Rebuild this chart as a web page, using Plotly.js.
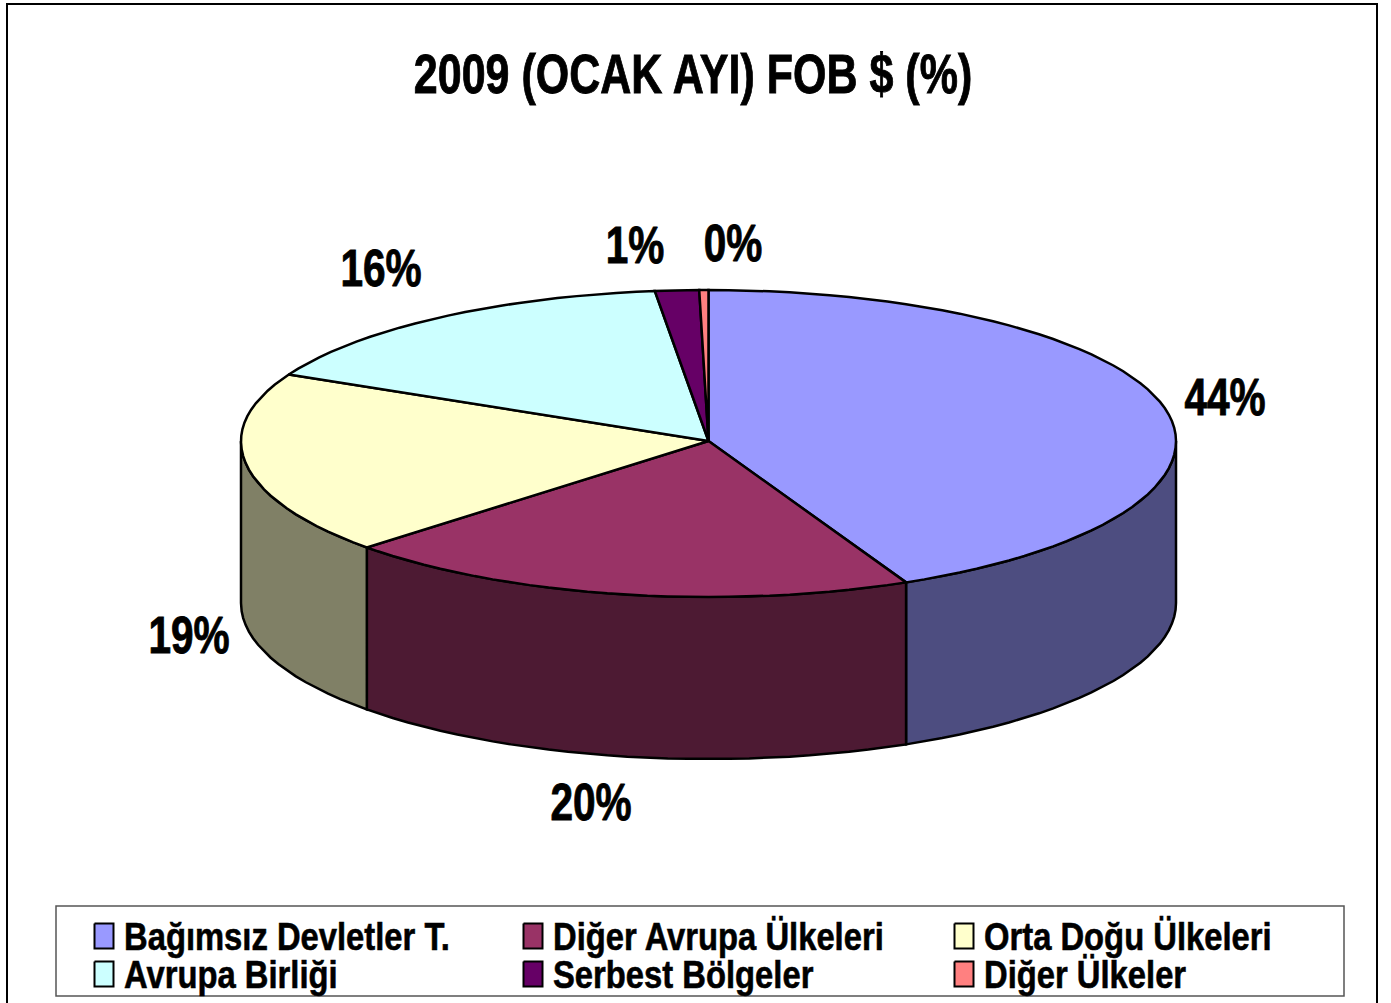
<!DOCTYPE html>
<html><head><meta charset="utf-8">
<script src="https://cdn.plot.ly/plotly-3.0.1.min.js"></script>
<style>html,body{margin:0;padding:0;background:#fff}#chart{width:1391px;height:1003px}</style>
</head><body><div id="chart"></div>
<script>
const chartTitle = "2009 (OCAK AYI) FOB $ (%)";
const categories = ["Bağımsız Devletler T.","Diğer Avrupa Ülkeleri","Orta Doğu Ülkeleri","Avrupa Birliği","Serbest Bölgeler","Diğer Ülkeler"];
const shares = [43.6,19.95,19.0,15.65,1.49,0.31];
const topColors = ["#9999FF","#993366","#FFFFCC","#CCFFFF","#660066","#FF8080"];
const sideColors = ["#4D4D80","#4D1A33","#808066","#668080","#330033","#804040"];

// layout constants (plot units equal page pixels)
const FONT = '"Liberation Sans",Arial,sans-serif';
const cx = 708.5, cy = 441, rx = 467.5, ryBack = 151, ryFront = 156, depth = 162;
const labelAnchors = [[1225,402],[591,807],[189,640],[381,273],[635,250],[733,248]];
const legendCols = [104,533,964], legendRows = [936,974];
const NARROW = {title:0.768, label:0.78, legend:0.84};

const pt = (deg, dy) => {
  const a = deg*Math.PI/180, c = Math.cos(a);
  return [cx + rx*Math.sin(a), cy - (c>0?ryBack:ryFront)*c + dy];
};
// slight foreshortening of the drawn angle in the tilted view
const warp = d => d - 2*Math.sin(d*Math.PI/360);
const STEP = 2.5;
function arc(from, to, dy){
  const out = [];
  for(let d=from; d<to; d+=STEP) out.push(pt(d,dy));
  out.push(pt(to,dy));
  return out;
}
const poly = (pts, color, width) => ({
  type:"scatter", mode:"lines", x:pts.map(p=>p[0]), y:pts.map(p=>p[1]),
  fill:"toself", fillcolor:color, line:{color:"#000",width:width||2.5,shape:"linear"},
  hoverinfo:"skip", showlegend:false
});

const traces = [];
const bounds = []; let cum = 0;
shares.forEach(v => { bounds.push([warp(cum/100*360), warp((cum+v)/100*360)]); cum += v; });
const total = cum;

// side walls (front half only)
bounds.forEach(([a,b],i) => {
  const f = Math.max(a,90), t = Math.min(b,270);
  if(t>f){
    const pts = arc(f,t,0).concat(arc(f,t,depth).reverse());
    pts.push(pts[0]);
    traces.push(poly(pts, sideColors[i]));
  }
});
// top faces
bounds.forEach(([a,b],i) => {
  const pts = [[cx,cy]].concat(arc(a,b,0)); pts.push([cx,cy]);
  const tr = poly(pts, topColors[i]); tr.name = categories[i];
  traces.push(tr);
});
// percentage labels
traces.push({
  type:"scatter", mode:"text", x:labelAnchors.map(p=>p[0]), y:labelAnchors.map(p=>p[1]),
  text:shares.map(v=>Math.round(v/total*100)+"%"), textposition:"middle center",
  textfont:{family:FONT,size:52,color:"#000",weight:700}, hoverinfo:"skip", showlegend:false, cliponaxis:false
});
// legend entries
categories.forEach((name,i) => {
  const mx = legendCols[i%3], my = legendRows[Math.floor(i/3)];
  const pts = [[mx-9.5,my-12.5],[mx+9.5,my-12.5],[mx+9.5,my+12.5],[mx-9.5,my+12.5],[mx-9.5,my-12.5]];
  traces.push(poly(pts, topColors[i], 2));
  traces.push({
    type:"scatter", mode:"text", x:[mx+20], y:[my+4], text:[name], name:name,
    textposition:"middle right", textfont:{family:FONT,size:39,color:"#000",weight:700},
    hoverinfo:"skip", showlegend:false, cliponaxis:false
  });
});

const layout = {
  width:1391, height:1003, margin:{l:0,r:0,t:0,b:0},
  paper_bgcolor:"#fff", plot_bgcolor:"#fff", showlegend:false,
  title:{text:chartTitle, x:693/1391, xanchor:"center", y:1-73/1003, yanchor:"middle",
         font:{family:FONT,size:56,color:"#000",weight:700}},
  xaxis:{range:[0,1391], visible:false, fixedrange:true},
  yaxis:{range:[1003,0], visible:false, fixedrange:true},
  shapes:[
    {type:"rect",xref:"x",yref:"y",x0:7,x1:1377,y0:4,y1:1012,line:{color:"#000",width:2},layer:"below"},
    {type:"rect",xref:"x",yref:"y",x0:56,x1:1344,y0:906,y1:996,line:{color:"#555",width:1.5},fillcolor:"#fff",layer:"below"}
  ]
};
// no condensed face is installed: condense the glyphs of the real text nodes
function condense(el, f, w){
  el.setAttribute("lengthAdjust","spacingAndGlyphs");
  el.setAttribute("textLength", (el.getComputedTextLength()*f).toFixed(1));
  el.style.stroke = "#000";
  el.style.strokeWidth = w + "px";
}
Plotly.newPlot("chart", traces, layout, {staticPlot:true, displayModeBar:false}).then(gd => {
  gd.querySelectorAll(".gtitle").forEach(t => condense(t, NARROW.title, 0.9));
  gd.querySelectorAll(".textpoint text").forEach(t => {
    if(t.textContent.endsWith("%")) condense(t, NARROW.label, 0.9);
    else condense(t, NARROW.legend, 0.6);
  });
});
</script></body></html>
